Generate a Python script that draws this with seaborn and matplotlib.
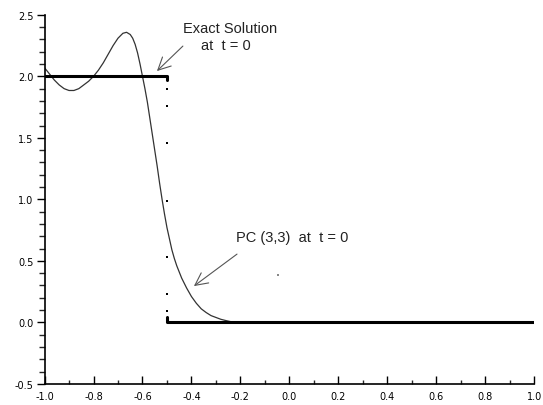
import matplotlib
matplotlib.use("Agg")
import matplotlib.pyplot as plt
from matplotlib.ticker import MultipleLocator
import seaborn as sns
import pandas as pd

# exact solution at t = 0 (step)
exact_top_x = [-1.0, -0.5, -0.5]
exact_top_y = [2.0, 2.0, 1.97]
exact_bot_x = [-0.5, -0.5, 1.0]
exact_bot_y = [0.04, 0.0, 0.0]
# dotted vertical jump at x = -0.5
jump_x = [-0.5, -0.5, -0.5, -0.5, -0.5, -0.5, -0.5]
jump_y = [1.90, 1.76, 1.46, 0.99, 0.53, 0.23, 0.09]

# PC (3,3) curve
pc_x = [-1.0, -0.98, -0.96, -0.94, -0.92, -0.90, -0.88, -0.86, -0.84, -0.82,
        -0.80, -0.78, -0.76, -0.74, -0.72, -0.70, -0.68, -0.665, -0.65, -0.64,
        -0.63, -0.62, -0.61, -0.60, -0.59, -0.58, -0.57, -0.56, -0.55, -0.54,
        -0.53, -0.52, -0.51, -0.50, -0.49, -0.48, -0.47, -0.46, -0.44, -0.42,
        -0.40, -0.38, -0.36, -0.34, -0.32, -0.30, -0.28, -0.26, -0.24, -0.22]
pc_y = [2.07, 2.02, 1.97, 1.93, 1.90, 1.885, 1.885, 1.90, 1.93, 1.96,
        2.00, 2.05, 2.11, 2.18, 2.25, 2.31, 2.35, 2.358, 2.34, 2.31,
        2.26, 2.19, 2.10, 2.00, 1.90, 1.79, 1.66, 1.53, 1.40, 1.27,
        1.13, 1.00, 0.88, 0.77, 0.68, 0.59, 0.52, 0.46, 0.36, 0.28,
        0.21, 0.155, 0.11, 0.08, 0.055, 0.04, 0.025, 0.015, 0.006, 0.0]
stray_x = [-0.047]
stray_y = [0.385]

x_ticks = [-1.0, -0.8, -0.6, -0.4, -0.2, 0.0, 0.2, 0.4, 0.6, 0.8, 1.0]
y_ticks = [-0.5, 0.0, 0.5, 1.0, 1.5, 2.0, 2.5]

sns.set_style("ticks")
plt.rcParams['font.family'] = ['DejaVu Sans']

fig = plt.figure(figsize=(5.43, 4.06), dpi=100)
ax = fig.add_axes([0.082, 0.052, 0.902, 0.909])

pc = pd.DataFrame({'x': pc_x, 'y': pc_y})
sns.lineplot(data=pc, x='x', y='y', sort=False, estimator=None,
             color='#333333', linewidth=0.9, ax=ax)
sns.lineplot(x=exact_top_x, y=exact_top_y, sort=False, estimator=None,
             color='black', linewidth=2.2, ax=ax)
sns.lineplot(x=exact_bot_x, y=exact_bot_y, sort=False, estimator=None,
             color='black', linewidth=2.2, ax=ax)
sns.scatterplot(x=jump_x, y=jump_y, color='black', s=4, marker='s',
                linewidth=0, ax=ax)
sns.scatterplot(x=stray_x, y=stray_y, color='#888888', s=0.6, marker='s',
                linewidth=0, ax=ax)

ax.set_xlim(-1.0, 1.0)
ax.set_ylim(-0.5, 2.5)
ax.set_xticks(x_ticks)
ax.set_xticklabels([f"{v:.1f}" for v in x_ticks])
ax.set_yticks(y_ticks)
ax.set_yticklabels([f"{v:.1f}" for v in y_ticks])
ax.xaxis.set_minor_locator(MultipleLocator(0.1))
ax.yaxis.set_minor_locator(MultipleLocator(0.1))
ax.tick_params(axis='x', which='major', direction='in', length=6, width=1,
               labelsize=7, pad=5, colors='black')
ax.tick_params(axis='x', which='minor', direction='in', length=3, width=1)
ax.tick_params(axis='y', which='major', direction='out', length=6, width=1,
               labelsize=7, pad=2, colors='black')
ax.tick_params(axis='y', which='minor', direction='out', length=4, width=1)
ax.set_xlabel('')
ax.set_ylabel('')
sns.despine(ax=ax)
for s in ['left', 'bottom']:
    ax.spines[s].set_color('black')
    ax.spines[s].set_linewidth(1.2)

arrow = dict(arrowstyle='->,head_length=0.9,head_width=0.45', color='#555555',
             linewidth=0.8, shrinkA=0, shrinkB=0)
ax.text(-0.435, 2.36, 'Exact Solution', fontsize=10.5, color='#222222',
        family='Liberation Sans')
ax.text(-0.361, 2.222, 'at  t = 0', fontsize=10.5, color='#222222',
        family='Liberation Sans')
ax.annotate('', xy=(-0.541, 2.043), xytext=(-0.435, 2.246), arrowprops=arrow)

ax.text(-0.218, 0.661, 'PC (3,3)  at  t = 0', fontsize=10.5, color='#222222',
        family='Liberation Sans')
ax.annotate('', xy=(-0.390, 0.295), xytext=(-0.214, 0.555), arrowprops=arrow)

fig.savefig('out.png', dpi=100)
